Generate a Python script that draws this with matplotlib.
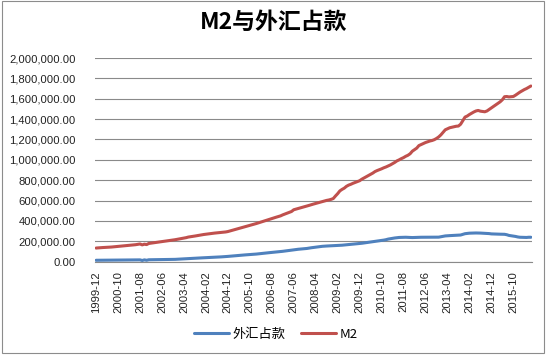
import matplotlib
matplotlib.use("Agg")
import matplotlib.pyplot as plt
import pandas as pd
from matplotlib.patches import Rectangle

plt.rcParams['font.family'] = ['Liberation Sans', 'Noto Sans CJK SC', 'DejaVu Sans']

months = [str(p) for p in pd.period_range('1999-12', periods=199, freq='M')]

series_names = ['外汇占款', 'M2']

# 外汇占款 (monthly, 1999-12 .. 2016-06)
fx = [
    14000,
    14200, 14300, 14400, 14500, 14600, 14700, 14800, 14900, 15000, 15200, 15400, 15600,
    15800, 16000, 16300, 16600, 17000, 17400, 17800, 18000, 12000, 18000, 14000, 18900,
    19200, 19500, 19800, 20000, 20300, 20600, 21000, 21300, 21600, 22000, 22400, 23000,
    24000, 25300, 26600, 27900, 29200, 30500, 31800, 33100, 34400, 35500, 36500, 37500,
    38500, 39500, 40500, 41500, 42500, 43800, 45000, 46200, 47400, 48600, 50000, 52000,
    54000, 56000, 58000, 60000, 62000, 64000, 65500, 67000, 68500, 70000, 71500, 73000,
    75000, 77500, 80000, 82500, 85000, 87000, 89000, 91000, 93000, 95000, 97000, 99000,
    102000, 105000, 108000, 111000, 114000, 117000, 120000, 122000, 124000, 126000, 128000, 130000,
    134000, 137000, 140000, 143000, 146000, 149000, 151000, 153000, 154000, 155000, 156000, 157000,
    158000, 159000, 160000, 162000, 164000, 166000, 168000, 170000, 172000, 174000, 176000, 178000,
    181000, 184000, 187000, 190000, 193000, 196000, 199000, 202000, 205000, 208000, 212000, 216000,
    222000, 226000, 230000, 233000, 236000, 238000, 239000, 240000, 240000, 239000, 238000, 237000,
    238000, 239000, 239000, 240000, 240000, 240000, 240000, 240000, 240000, 240000, 240000, 241000,
    245000, 250000, 253000, 255000, 256000, 257000, 258000, 259000, 260000, 262000, 268000, 275000,
    278000, 280000, 281000, 282000, 282000, 282000, 281000, 280000, 279000, 278000, 276000, 273000,
    272000, 272000, 271000, 270000, 270000, 269000, 265000, 258000, 255000, 252000, 248000, 243000,
    240000, 239000, 239000, 238000, 240000, 240000,
]

# M2 (monthly, 1999-12 .. 2016-06)
m2 = [
    134000,
    136000, 137000, 139000, 140000, 141000, 143000, 144000, 146000, 148000, 150000, 152000, 155000,
    157000, 159000, 161000, 163000, 165000, 167000, 170000, 174000, 165000, 172000, 168000, 179000,
    182000, 184000, 187000, 190000, 193000, 196000, 199000, 202000, 205000, 208000, 212000, 216000,
    220000, 224000, 228000, 232000, 236000, 242000, 245000, 249000, 252000, 256000, 259000, 263000,
    267000, 270000, 273000, 276000, 278000, 281000, 283000, 285000, 287000, 290000, 292000, 296000,
    302000, 308000, 314000, 320000, 326000, 332000, 338000, 344000, 350000, 356000, 362000, 368000,
    375000, 382000, 390000, 397000, 404000, 411000, 418000, 424000, 430000, 437000, 443000, 450000,
    460000, 468000, 477000, 485000, 493000, 510000, 516000, 522000, 528000, 534000, 540000, 546000,
    553000, 560000, 566000, 572000, 578000, 584000, 590000, 596000, 602000, 606000, 612000, 620000,
    645000, 668000, 695000, 710000, 722000, 740000, 752000, 760000, 770000, 778000, 785000, 795000,
    810000, 822000, 835000, 845000, 858000, 870000, 885000, 895000, 903000, 912000, 922000, 930000,
    940000, 950000, 962000, 975000, 990000, 1000000, 1012000, 1022000, 1035000, 1045000, 1060000, 1085000,
    1100000, 1115000, 1140000, 1150000, 1160000, 1170000, 1178000, 1185000, 1190000, 1198000, 1210000, 1225000,
    1245000, 1270000, 1295000, 1305000, 1315000, 1320000, 1325000, 1330000, 1332000, 1350000, 1385000, 1420000,
    1430000, 1445000, 1458000, 1470000, 1480000, 1485000, 1478000, 1475000, 1472000, 1480000, 1495000, 1510000,
    1525000, 1540000, 1555000, 1570000, 1590000, 1620000, 1622000, 1618000, 1620000, 1622000, 1635000, 1650000,
    1665000, 1678000, 1690000, 1700000, 1712000, 1725000,
]

y_ticks = [0, 200000, 400000, 600000, 800000, 1000000, 1200000, 1400000, 1600000, 1800000, 2000000]

W, H = 550, 357
fig = plt.figure(figsize=(W / 100, H / 100), dpi=100)
fig.patch.set_facecolor('white')

# chart-area border
fig.patches.append(Rectangle((2 / W, 1 - 353 / H), 542 / W, 352 / H, transform=fig.transFigure,
                             fill=False, edgecolor='#8c8c8c', linewidth=0.8))

ax = fig.add_axes([95 / W, 1 - 261.7 / H, (532 - 95) / W, (261.7 - 58) / H])
x = list(range(len(months)))
l1, = ax.plot(x, fx, color='#4F81BD', linewidth=2.2, solid_capstyle='round')
l2, = ax.plot(x, m2, color='#C0504D', linewidth=2.2, solid_capstyle='round')

ax.set_xlim(-0.5, len(months) - 0.5)
ax.set_ylim(0, 2000000)
ax.set_yticks(y_ticks)
ax.set_yticklabels([f'{v:,.2f}' for v in y_ticks], fontsize=8.1, color='#222222')
ax.yaxis.grid(True, color='#8a8a8a', linewidth=0.8)
ax.set_axisbelow(True)
ax.tick_params(axis='y', length=0, pad=14)
tick_pos = x[::10]
ax.set_xticks(tick_pos)
ax.set_xticklabels([months[i] for i in tick_pos], rotation=90, fontsize=8.1, color='#222222')
ax.tick_params(axis='x', length=0, pad=7)
for s in ['left', 'right', 'top']:
    ax.spines[s].set_visible(False)
ax.spines['bottom'].set_color('#8a8a8a')
ax.spines['bottom'].set_linewidth(0.8)

fig.text(274 / W, 1 - 22 / H, 'M2与外汇占款', ha='center', va='center', fontsize=16.5,
         fontweight='bold', family=['Noto Sans CJK SC', 'DejaVu Sans'])

fig.legend([l1, l2], series_names, loc='center', bbox_to_anchor=(276 / W, 1 - 334 / H), ncol=2,
           frameon=False, handlelength=2.6, columnspacing=1.2, handletextpad=0.3,
           prop={'family': ['Noto Sans CJK SC', 'DejaVu Sans'], 'size': 9.5})

fig.savefig('out.png', dpi=100)
